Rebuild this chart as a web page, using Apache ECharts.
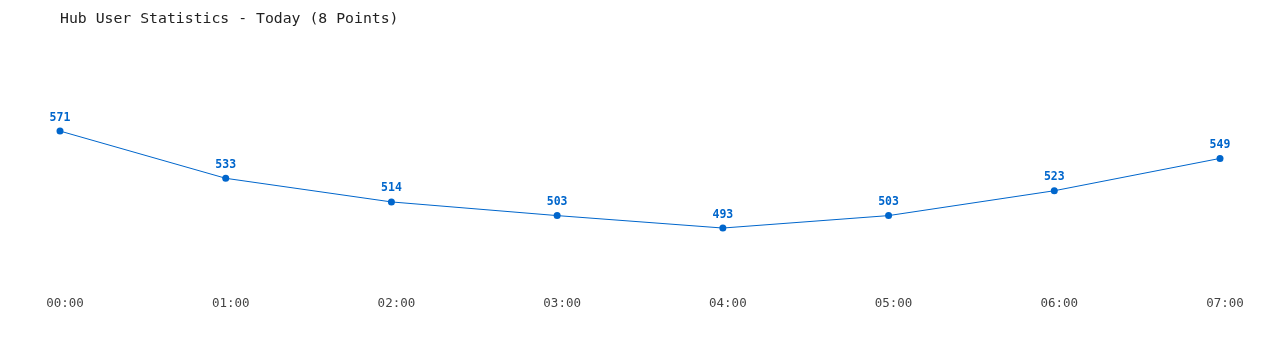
<!DOCTYPE html>
<html><head><meta charset="utf-8">
<script src="https://cdn.jsdelivr.net/npm/echarts@6/dist/echarts.min.js"></script>
<style>html,body{margin:0;padding:0;background:#fff}#c{width:1280px;height:350px}</style>
</head><body><div id="c"></div>
<script>
const categories = ["00:00","01:00","02:00","03:00","04:00","05:00","06:00","07:00"];
const users = [571, 533, 514, 503, 493, 503, 523, 549];
const titleText = "Hub User Statistics - Today (8 Points)";
const mono = "'DejaVu Sans Mono', 'Liberation Mono', monospace";
const chart = echarts.init(document.getElementById('c'), null, {renderer:'canvas'});
chart.setOption({
  animation:false,
  backgroundColor:'#ffffff',
  title:{text:titleText,left:55,top:7,textStyle:{fontFamily:mono,fontSize:14.8,fontWeight:'normal',color:'#222'}},
  grid:{left:60,right:60,top:95,bottom:68.5},
  xAxis:{type:'category',data:categories,boundaryGap:false,
    axisLine:{show:false},axisTick:{show:false},splitLine:{show:false},
    axisLabel:{fontFamily:mono,fontSize:12.5,color:'#444',margin:16,padding:[0,0,0,10]}},
  yAxis:{type:'value',min:450,max:600,show:false,splitLine:{show:false}},
  series:[{type:'line',data:users,symbol:'circle',symbolSize:7,
    lineStyle:{color:'#0066cc',width:1},itemStyle:{color:'#0066cc'},
    label:{show:true,position:'top',distance:4,fontFamily:mono,fontSize:11.5,fontWeight:'bold',color:'#0066cc'}}]
});
</script></body></html>
